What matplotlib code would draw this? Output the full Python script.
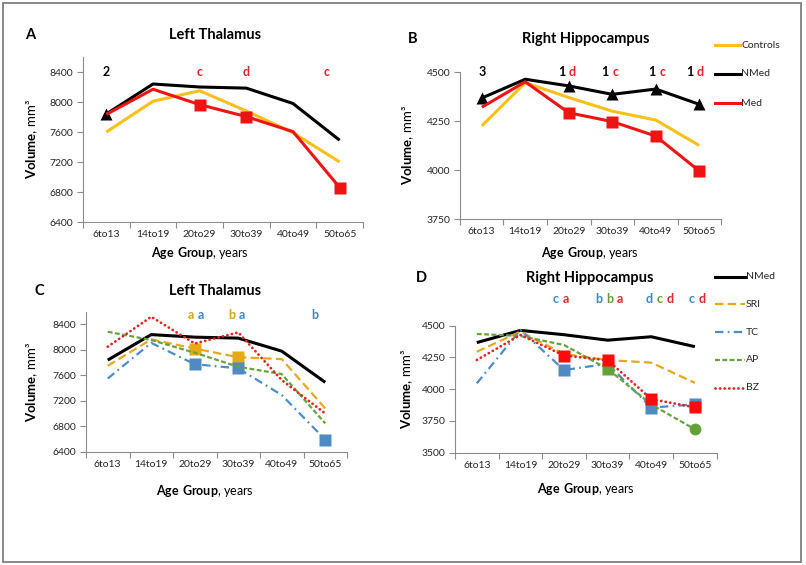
import matplotlib
matplotlib.use("Agg")
import matplotlib.pyplot as plt
from matplotlib.lines import Line2D
from matplotlib.patches import Rectangle

plt.rcParams['font.family'] = ['Lato', 'DejaVu Sans']
plt.rcParams['mathtext.fontset'] = 'custom'
plt.rcParams['mathtext.rm'] = 'Lato'
plt.rcParams['mathtext.bf'] = 'Lato:bold'

W, H = 806, 565

age_groups = ["6to13", "14to19", "20to29", "30to39", "40to49", "50to65"]

# Left thalamus volume, mm3
thal_controls = [7600, 8010, 8150, 7880, 7590, 7200]
thal_nmed = [7840, 8240, 8200, 8185, 7980, 7490]
thal_med = [7835, 8170, 7965, 7805, 7605, 6860]
thal_sri = [7750, 8165, 8020, 7885, 7855, 7080]
thal_tc = [7550, 8110, 7775, 7710, 7290, 6590]
thal_ap = [8285, 8155, 7955, 7735, 7620, 6845]
thal_bz = [8050, 8520, 8100, 8275, 7525, 7000]

# Right hippocampus volume, mm3
hipp_controls = [4225, 4445, 4370, 4300, 4255, 4125]
hipp_nmed = [4367, 4463, 4429, 4386, 4413, 4335]
hipp_med = [4320, 4450, 4292, 4247, 4173, 3995]
hipp_sri = [4295, 4453, 4277, 4230, 4209, 4050]
hipp_tc = [4046, 4466, 4151, 4200, 3855, 3880]
hipp_ap = [4435, 4419, 4348, 4160, 3880, 3684]
hipp_bz = [4230, 4427, 4265, 4228, 3922, 3857]

# which points carry a marker (index into age_groups)
a_nmed_marks = [0]
a_med_marks = [2, 3, 5]
b_nmed_marks = [0, 2, 3, 4, 5]
b_med_marks = [2, 3, 4, 5]
c_sri_marks = [2, 3]
c_tc_marks = [2, 3, 5]
d_tc_marks = [2, 4, 5]
d_ap_sq_marks = [3]
d_ap_circle_marks = [5]
d_bz_marks = [2, 3, 4, 5]

RED = '#EE1414'
GOLD = '#F8C01A'
SRI_C = '#E2A820'
TC_C = '#4E8CC4'
AP_C = '#6AA140'
BZ_C = '#E32222'
LBL_RED = '#D92B2B'
LBL_BLUE = '#3F86C3'
LBL_GOLD = '#D6A322'
LBL_GREEN = '#6A9A3A'

# significance letters: (x position in categories, [(text, colour), ...])
a_letters = [(0, [("2", "k")]), (2, [("c", LBL_RED)]), (3, [("d", LBL_RED)]),
             (4.72, [("c", LBL_RED)])]
b_letters = [(0, [("3", "k")]), (1.96, [("1", "k"), ("d", LBL_RED)]),
             (2.96, [("1", "k"), ("c", LBL_RED)]), (4.03, [("1", "k"), ("c", LBL_RED)]),
             (4.9, [("1", "k"), ("d", LBL_RED)])]
c_letters = [(2.03, [("a", LBL_GOLD), ("a", LBL_BLUE)]),
             (2.96, [("b", LBL_GOLD), ("a", LBL_BLUE)]),
             (4.76, [("b", LBL_BLUE)])]
d_letters = [(1.92, [("c", LBL_BLUE), ("a", LBL_RED)]),
             (3.04, [("b", LBL_BLUE), ("b", LBL_GREEN), ("a", LBL_RED)]),
             (4.2, [("d", LBL_BLUE), ("c", LBL_GREEN), ("d", LBL_RED)]),
             (5.05, [("c", LBL_BLUE), ("d", LBL_RED)])]

STYLES = {
    "Controls": dict(color=GOLD, lw=2.2, ls='-'),
    "NMed": dict(color='k', lw=2.2, ls='-'),
    "Med": dict(color=RED, lw=2.2, ls='-'),
    "SRI": dict(color=SRI_C, lw=1.6, ls=(0, (3.8, 1.9))),
    "TC": dict(color=TC_C, lw=1.6, ls=(0, (3.8, 1.9, 0.8, 1.9))),
    "AP": dict(color=AP_C, lw=1.6, ls=(0, (2.2, 1.1))),
    "BZ": dict(color=BZ_C, lw=2.0, ls=(0, (0.05, 1.6)), dash_capstyle='round'),
}


def fx(px):
    return px / W


def fy(py):
    return 1 - py / H


def make_axes(fig, left, right, bottom, top, ylim, yticks):
    ax = fig.add_axes([fx(left), fy(bottom), (right - left) / W, (bottom - top) / H])
    ax.set_xlim(-0.5, 5.5)
    ax.set_ylim(*ylim)
    ax.set_yticks(yticks)
    ax.set_xticks([i - 0.5 for i in range(7)])
    ax.set_xticklabels([])
    ax.set_xticks(range(6), minor=True)
    ax.set_xticklabels(age_groups, minor=True)
    ax.tick_params(axis='x', which='major', length=4, width=0.8, color='#8C8C8C', direction='out')
    ax.tick_params(axis='x', which='minor', length=0, pad=6, labelsize=7.5, labelcolor='#262626')
    ax.tick_params(axis='y', length=4, width=0.8, color='#8C8C8C', direction='out',
                   pad=3, labelsize=7.5, labelcolor='#262626')
    for s in ['top', 'right']:
        ax.spines[s].set_visible(False)
    for s in ['left', 'bottom']:
        ax.spines[s].set_color('#8C8C8C')
        ax.spines[s].set_linewidth(0.8)
    return ax


def series(ax, y, name, marks=None, marker='s', mcolor=None, ms=8):
    st = dict(STYLES[name])
    ax.plot(range(6), y, clip_on=False, solid_capstyle='butt', **st)
    if marks:
        ax.plot(marks, [y[i] for i in marks], ls='none', marker=marker, ms=ms,
                color=mcolor or st['color'], mec='none', clip_on=False)


def letter_row(ax, yval, items):
    for x, parts in items:
        n = len(parts)
        for i, (s, c) in enumerate(parts):
            dx = (i - (n - 1) / 2) * 10.5 * 0.72
            ax.annotate(s, (x, yval), xytext=(dx, 0), textcoords="offset points",
                        ha="center", va="center", color=c, fontsize=9,
                        fontweight="bold", annotation_clip=False)


def legend(fig, names, ys, x0, x1):
    for name, py in zip(names, ys):
        st = dict(STYLES[name])
        fig.add_artist(Line2D([fx(x0), fx(x1)], [fy(py), fy(py)], transform=fig.transFigure, **st))
        fig.text(fx(x1 + 1), fy(py), name, fontsize=7.5, va='center', ha='left', color='#262626')


def labels(fig, letter, lpos, title, tpos, ylab_pos, xlab_pos):
    fig.text(fx(lpos[0]), fy(lpos[1]), letter, fontsize=10.5, fontweight='bold', ha='center', va='center')
    fig.text(fx(tpos[0]), fy(tpos[1]), title, fontsize=10.5, fontweight='bold', ha='center', va='center')
    fig.text(fx(ylab_pos[0]), fy(ylab_pos[1]), r"$\bf{Volume}$, mm³", fontsize=9.5,
             rotation=90, ha='center', va='center')
    fig.text(fx(xlab_pos[0]), fy(xlab_pos[1]), r"$\bf{Age\ Group}$, years", fontsize=9,
             ha='center', va='center')


fig = plt.figure(figsize=(W / 100, H / 100), dpi=100)

# A
axA = make_axes(fig, 83, 363, 222, 57, (6400, 8600), range(6400, 8401, 400))
series(axA, thal_controls, "Controls")
series(axA, thal_nmed, "NMed", a_nmed_marks, marker='^', ms=8)
series(axA, thal_med, "Med", a_med_marks)
letter_row(axA, 8400, a_letters)
labels(fig, "A", (30, 35), "Left Thalamus", (215, 35), (32, 139), (200, 253))

# B
axB = make_axes(fig, 460, 721, 219, 72, (3750, 4500), range(3750, 4501, 250))
series(axB, hipp_controls, "Controls")
series(axB, hipp_nmed, "NMed", b_nmed_marks, marker='^', ms=8)
series(axB, hipp_med, "Med", b_med_marks)
letter_row(axB, 4500, b_letters)
labels(fig, "B", (413, 39), "Right Hippocampus", (586, 39), (408, 145), (590, 253))
legend(fig, ["Controls", "NMed", "Med"], [45, 74, 103], 715, 740)

# C
axC = make_axes(fig, 86, 347, 451.7, 311.7, (6400, 8600), range(6400, 8401, 400))
series(axC, thal_nmed, "NMed")
series(axC, thal_sri, "SRI", c_sri_marks, mcolor='#E6AA14')
series(axC, thal_tc, "TC", c_tc_marks, mcolor='#4F8AC0')
series(axC, thal_ap, "AP")
series(axC, thal_bz, "BZ")
letter_row(axC, 8547, c_letters)
labels(fig, "C", (39, 291), "Left Thalamus", (215, 291), (32, 382), (205, 491))

# D
axD = make_axes(fig, 455, 716.7, 452.7, 325.7, (3500, 4500), range(3500, 4501, 250))
series(axD, hipp_nmed, "NMed")
series(axD, hipp_sri, "SRI")
series(axD, hipp_tc, "TC", d_tc_marks, mcolor='#4F8AC0')
series(axD, hipp_ap, "AP", d_ap_sq_marks, mcolor='#62A03A')
axD.plot(d_ap_circle_marks, [hipp_ap[i] for i in d_ap_circle_marks], ls='none', marker='o',
         ms=8.5, color='#62A03A', mec='none', clip_on=False)
series(axD, hipp_bz, "BZ", d_bz_marks, mcolor='#FF0A0A')
letter_row(axD, 4707, d_letters)
labels(fig, "D", (421, 278), "Right Hippocampus", (590, 278), (407, 389), (586, 489))
legend(fig, ["NMed", "SRI", "TC", "AP", "BZ"], [276.7, 304.3, 332.3, 360, 387.7], 715, 745)

# outer frame
fig.add_artist(Rectangle((fx(3), fy(562)), (801 - 3) / W, (562 - 3) / H, transform=fig.transFigure,
                         fill=False, ec='#7F7F7F', lw=1.3))

fig.savefig("out.png", dpi=100)
